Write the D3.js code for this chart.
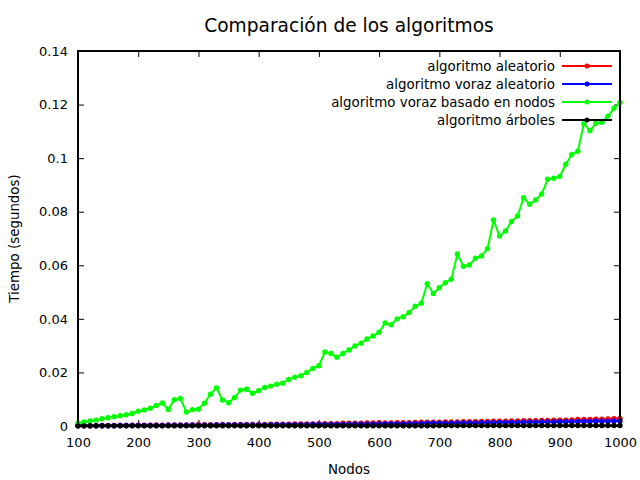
<!DOCTYPE html>
<html>
<head>
<meta charset="utf-8">
<script src="https://cdn.jsdelivr.net/npm/d3@7"></script>
<style>
  body { margin: 0; background: #fff; }
  text { font-family: "DejaVu Sans", sans-serif; }
</style>
</head>
<body>
<svg id="chart" width="640" height="480"></svg>
<script>
// node counts: 100, 110, ..., 1000
const nodos = d3.range(100, 1001, 10);

const aleatorio = [
  0.0001, 0.0001, 0.0001, 0.0001, 0.0002, 0.0002, 0.0002, 0.0002, 0.0002, 0.0003,
  0.0003, 0.0003, 0.0003, 0.0004, 0.0003, 0.0004, 0.0004, 0.0004, 0.0004, 0.0005,
  0.0006, 0.0005, 0.0005, 0.0005, 0.0006, 0.0005, 0.0006, 0.0006, 0.0006, 0.0006,
  0.0006, 0.0006, 0.0007, 0.0007, 0.0007, 0.0007, 0.0008, 0.0008, 0.0008, 0.0008,
  0.0009, 0.0009, 0.0009, 0.0009, 0.0010, 0.0010, 0.0010, 0.0010, 0.0011, 0.0011,
  0.0012, 0.0011, 0.0011, 0.0012, 0.0012, 0.0012, 0.0013, 0.0014, 0.0014, 0.0014,
  0.0014, 0.0015, 0.0015, 0.0015, 0.0016, 0.0016, 0.0016, 0.0017, 0.0017, 0.0018,
  0.0018, 0.0018, 0.0019, 0.0019, 0.0020, 0.0020, 0.0020, 0.0021, 0.0021, 0.0022,
  0.0022, 0.0022, 0.0023, 0.0024, 0.0024, 0.0024, 0.0025, 0.0025, 0.0026, 0.0027,
  0.0028
];

const vorazAleatorio = [
  0.0001, 0.0001, 0.0001, 0.0001, 0.0001, 0.0001, 0.0001, 0.0002, 0.0002, 0.0002,
  0.0002, 0.0002, 0.0002, 0.0002, 0.0002, 0.0003, 0.0003, 0.0003, 0.0003, 0.0003,
  0.0003, 0.0003, 0.0003, 0.0004, 0.0004, 0.0004, 0.0004, 0.0004, 0.0004, 0.0004,
  0.0004, 0.0004, 0.0005, 0.0005, 0.0005, 0.0005, 0.0005, 0.0005, 0.0005, 0.0006,
  0.0006, 0.0006, 0.0006, 0.0006, 0.0006, 0.0007, 0.0007, 0.0007, 0.0007, 0.0007,
  0.0008, 0.0008, 0.0008, 0.0008, 0.0008, 0.0009, 0.0009, 0.0009, 0.0010, 0.0010,
  0.0010, 0.0010, 0.0010, 0.0011, 0.0011, 0.0011, 0.0011, 0.0012, 0.0012, 0.0012,
  0.0013, 0.0013, 0.0013, 0.0013, 0.0014, 0.0014, 0.0014, 0.0015, 0.0015, 0.0015,
  0.0016, 0.0016, 0.0016, 0.0017, 0.0017, 0.0017, 0.0018, 0.0018, 0.0018, 0.0019,
  0.0019
];

const vorazNodos = [
  0.0010, 0.0015, 0.0019, 0.0022, 0.0027, 0.0031, 0.0035, 0.0038, 0.0042, 0.0047,
  0.0055, 0.0060, 0.0066, 0.0077, 0.0086, 0.0062, 0.0098, 0.0103, 0.0052, 0.0061,
  0.0063, 0.0085, 0.0119, 0.0142, 0.0097, 0.0087, 0.0106, 0.0134, 0.0137, 0.0122,
  0.0132, 0.0144, 0.0149, 0.0156, 0.0160, 0.0174, 0.0182, 0.0188, 0.0200, 0.0215,
  0.0225, 0.0276, 0.0271, 0.0257, 0.0271, 0.0284, 0.0299, 0.0309, 0.0325, 0.0336,
  0.0350, 0.0385, 0.0378, 0.0400, 0.0408, 0.0424, 0.0447, 0.0458, 0.0531, 0.0495,
  0.0516, 0.0535, 0.0548, 0.0642, 0.0596, 0.0601, 0.0626, 0.0635, 0.0662, 0.0769,
  0.0709, 0.0728, 0.0764, 0.0784, 0.0852, 0.0828, 0.0844, 0.0866, 0.0921, 0.0925,
  0.0932, 0.0977, 0.1014, 0.1026, 0.1129, 0.1102, 0.1130, 0.1134, 0.1157, 0.1186,
  0.1208
];

const arboles = [
  0.00005, 0.00005, 0.00005, 0.00005, 0.00005, 0.00005, 0.00005, 0.00005, 0.00005, 0.00005,
  0.00005, 0.00005, 0.00005, 0.00005, 0.00005, 0.00005, 0.00005, 0.00005, 0.00005, 0.00005,
  0.0001, 0.0001, 0.0001, 0.0001, 0.0001, 0.0001, 0.0001, 0.0001, 0.0001, 0.0001,
  0.0001, 0.0001, 0.0001, 0.0001, 0.0001, 0.0001, 0.0001, 0.0001, 0.0001, 0.0001,
  0.0001, 0.0001, 0.0001, 0.0001, 0.0001, 0.0001, 0.0001, 0.0001, 0.0001, 0.0001,
  0.0001, 0.0001, 0.0001, 0.0001, 0.0001, 0.0001, 0.0001, 0.0001, 0.0001, 0.0001,
  0.00015, 0.00015, 0.00015, 0.00015, 0.00015, 0.00015, 0.00015, 0.00015, 0.00015, 0.00015,
  0.00015, 0.00015, 0.00015, 0.00015, 0.00015, 0.00015, 0.00015, 0.00015, 0.00015, 0.00015,
  0.0002, 0.0002, 0.0002, 0.0002, 0.0002, 0.0002, 0.0002, 0.0002, 0.0002, 0.0002,
  0.0002
];

const seriesNames = ["algoritmo aleatorio", "algoritmo voraz aleatorio",
  "algoritmo voraz basado en nodos", "algoritmo árboles"];
const seriesColors = ["#ff0000", "#0000ff", "#00ff00", "#000000"];
const seriesValues = [aleatorio, vorazAleatorio, vorazNodos, arboles];

const xTicks = [100, 200, 300, 400, 500, 600, 700, 800, 900, 1000];
const yTicks = [0, 0.02, 0.04, 0.06, 0.08, 0.1, 0.12, 0.14];

const svg = d3.select("#chart");

// plot box, gnuplot style
const margin = { top: 51, right: 20, bottom: 54, left: 78 },
    width = 640 - margin.left - margin.right,
    height = 480 - margin.top - margin.bottom;

const x = d3.scaleLinear().domain([100, 1000]).range([0, width]);
const y = d3.scaleLinear().domain([0, 0.14]).range([height, 0]);

const chart = svg.append("g")
    .attr("transform", `translate(${margin.left},${margin.top})`);

// ticks on all four sides, pointing inward
const tickFont = g => g.selectAll("text")
    .style("font-size", "13px")
    .style("font-family", "DejaVu Sans, sans-serif")
    .attr("fill", "#000");

chart.append("g")
    .attr("transform", `translate(0,${height})`)
    .call(d3.axisBottom(x).tickValues(xTicks).tickSize(-6).tickPadding(12).tickFormat(d3.format("d")))
    .call(g => g.select(".domain").remove())
    .call(tickFont);

chart.append("g")
    .call(d3.axisTop(x).tickValues(xTicks).tickSize(-6).tickFormat(""))
    .call(g => g.select(".domain").remove());

chart.append("g")
    .call(d3.axisLeft(y).tickValues(yTicks).tickSize(-6).tickPadding(10).tickFormat(d => d === 0 ? "0" : d3.format("")(+d.toFixed(2))))
    .call(g => g.select(".domain").remove())
    .call(tickFont);

chart.append("g")
    .attr("transform", `translate(${width},0)`)
    .call(d3.axisRight(y).tickValues(yTicks).tickSize(-6).tickFormat(""))
    .call(g => g.select(".domain").remove());

chart.selectAll(".tick line").attr("stroke", "#000").attr("stroke-width", 1);

// data lines
const line = d3.line()
    .x((d, i) => x(nodos[i]))
    .y(d => y(d));

seriesValues.forEach((vals, k) => {
    chart.append("path")
        .datum(vals)
        .attr("fill", "none")
        .attr("stroke", seriesColors[k])
        .attr("stroke-width", 2)
        .attr("d", line);
    chart.append("g").selectAll("circle")
        .data(vals)
        .enter()
        .append("circle")
        .attr("cx", (d, i) => x(nodos[i]))
        .attr("cy", d => y(d))
        .attr("r", 2.7)
        .attr("fill", seriesColors[k]);
});

// frame
chart.append("rect")
    .attr("width", width)
    .attr("height", height)
    .attr("fill", "none")
    .attr("stroke", "#000")
    .attr("stroke-width", 2);

// legend
const legend = chart.append("g")
    .attr("transform", `translate(${width - 65},15)`);

seriesNames.forEach((name, k) => {
    const row = legend.append("g").attr("transform", `translate(0,${k * 18})`);
    row.append("text")
        .attr("x", 0)
        .attr("y", 0)
        .attr("dy", "0.35em")
        .attr("text-anchor", "end")
        .style("font-size", "13.4px")
        .text(name);
    row.append("line")
        .attr("x1", 7).attr("x2", 57)
        .attr("stroke", seriesColors[k])
        .attr("stroke-width", 2);
    row.append("circle")
        .attr("cx", 32)
        .attr("r", 2.5)
        .attr("fill", seriesColors[k]);
});

// title and axis labels
svg.append("text")
    .attr("x", margin.left + width / 2)
    .attr("y", 32)
    .attr("text-anchor", "middle")
    .style("font-size", "18.6px")
    .text("Comparación de los algoritmos");

svg.append("text")
    .attr("x", margin.left + width / 2)
    .attr("y", 474)
    .attr("text-anchor", "middle")
    .style("font-size", "13.4px")
    .text("Nodos");

svg.append("text")
    .attr("transform", `translate(19,${margin.top + height / 2}) rotate(-90)`)
    .attr("text-anchor", "middle")
    .style("font-size", "13.4px")
    .text("Tiempo (segundos)");
</script>
</body>
</html>
